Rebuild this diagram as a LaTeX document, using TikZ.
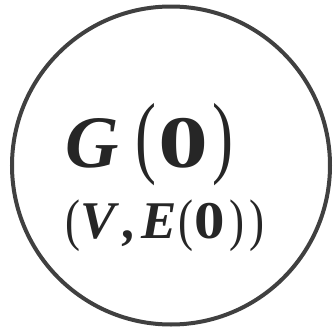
\documentclass[tikz,border=0pt]{standalone}
\usepackage{fontspec}
\setmainfont{Liberation Serif}
\definecolor{ring}{RGB}{64,64,64}
\definecolor{ink}{RGB}{38,38,38}
\tikzset{
  ringstyle/.style={draw=ring, line width=4pt, circle, minimum size=318pt, inner sep=0pt},
  glyph/.style={anchor=base, inner sep=0pt, text=ink},
  bigsym/.style={glyph, font=\fontsize{74}{80}\selectfont\bfseries\itshape},
  bignum/.style={glyph, xscale=1.35, font=\fontsize{74}{80}\selectfont\bfseries},
  bigpar/.style={glyph, yscale=1.23, xscale=0.85, font=\fontsize{74}{80}\selectfont},
  smallsym/.style={glyph, font=\fontsize{53}{60}\selectfont\bfseries\itshape},
  smallnum/.style={glyph, xscale=1.15, font=\fontsize{53}{60}\selectfont\bfseries},
  smallpar/.style={glyph, yscale=1.08, xscale=0.85, font=\fontsize{53}{60}\selectfont}
}
\begin{document}
\begin{tikzpicture}[x=1pt,y=-1pt]
\useasboundingbox (0,0) rectangle (333,330);
\node[ringstyle] (ring) at (171,165.5) {};
% line 1: G(0)
\node[bigsym] (g) at (92,167) {G};
\node[bigpar] (gl) at (146,166.5) {(};
\node[bignum] (gz) at (183.5,167) {0};
\node[bigpar] (gr) at (222.5,166.5) {)};
% line 2: (V,E(0))
\node[smallpar] (l1) at (73.5,239.5) {(};
\node[smallsym] (v) at (98.5,238) {V};
\node[smallsym] (comma) at (130.5,238) {,};
\node[smallsym] (e) at (159.5,238) {E};
\node[smallpar] (l2) at (186.5,239.5) {(};
\node[smallnum] (ez) at (209.5,238) {0};
\node[smallpar] (r2) at (237.5,239.5) {)};
\node[smallpar] (r1) at (257,239.5) {)};
\end{tikzpicture}
\end{document}
